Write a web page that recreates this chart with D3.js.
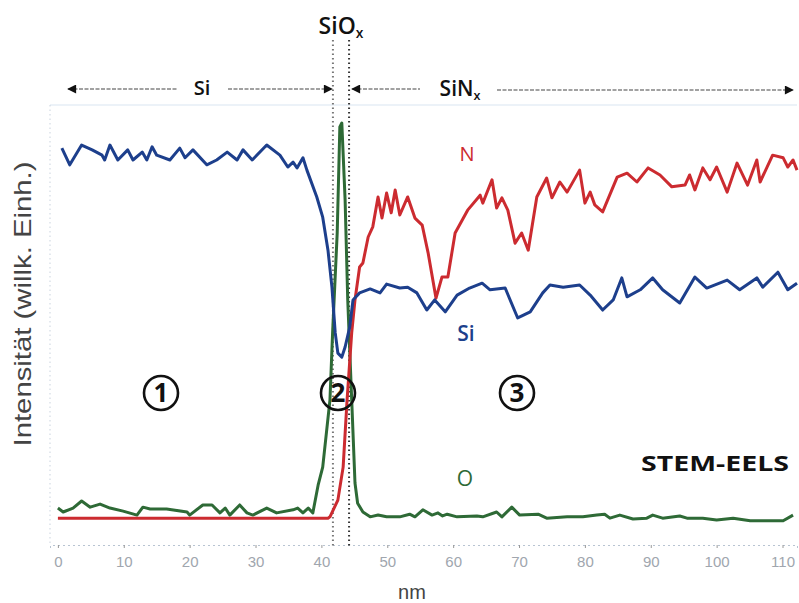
<!DOCTYPE html>
<html>
<head>
<meta charset="utf-8">
<script src="https://cdn.jsdelivr.net/npm/d3@7/dist/d3.min.js"></script>
<style>
  html, body { margin: 0; padding: 0; background: #fff; }
  svg { display: block; }
</style>
</head>
<body>
<svg id="chart" width="799" height="603"></svg>
<script>
// ---------- DATA ----------
const xTicks = [0, 10, 20, 30, 40, 50, 60, 70, 80, 90, 100, 110];

// Si signal (blue): [nm, intensity]
const siData = [
  [0.6,90.2],[1.8,86.4],[3.6,90.9],[5.2,89.8],[6.7,88.6],[7.1,87.5],[7.9,90.9],[9.1,87.5],
  [10.6,89.8],[11.4,87.5],[12.8,89.3],[13.5,87.5],[14.3,90.5],[15.0,88.6],[17.0,87.5],
  [18.5,90.2],[19.3,88.0],[20.5,89.8],[22.6,86.4],[24.1,87.5],[25.7,89.3],[27.2,87.5],
  [28.1,89.8],[29.5,87.5],[31.7,90.9],[33.7,88.6],[34.9,85.9],[35.7,87.0],[36.3,85.7],
  [37.2,88.0],[37.8,85.2],[39.3,79.1],[40.2,74.5],[41.0,67.0],[41.6,58.6],[42.1,48.2],
  [42.5,43.6],[43.1,42.7],[43.6,45.0],[44.3,49.5],[44.8,55.7],[45.8,57.3],[47.4,58.2],
  [48.9,57.3],[49.9,59.3],[51.9,58.4],[53.1,58.6],[54.5,57.3],[56.0,53.4],[57.2,55.7],
  [58.8,53.0],[60.6,56.8],[62.5,58.4],[64.4,59.5],[65.6,58.0],[67.9,58.4],[69.8,51.6],
  [71.7,53.0],[73.6,57.3],[74.7,59.1],[76.7,58.6],[79.2,59.1],[80.8,56.8],[82.7,53.4],
  [84.3,55.7],[85.6,60.7],[86.4,56.4],[88.4,58.0],[90.3,60.7],[91.8,58.0],[94.4,55.0],
  [96.7,60.9],[98.5,58.4],[101.6,60.2],[103.5,58.0],[106.1,60.7],[107.0,58.6],[109.3,62.0],
  [110.8,58.0],[112.2,59.5]
];

// N signal (red)
const nData = [
  [0.0,6.1],[20.0,6.1],[41.0,6.1],[41.3,6.4],[42.5,10.2],[43.3,17.7],[43.9,33.0],[44.6,48.2],
  [45.1,55.7],[45.8,63.2],[46.3,64.1],[47.1,70.0],[47.8,72.3],[48.6,79.1],[49.2,74.3],
  [49.9,80.0],[50.6,75.5],[51.2,80.7],[51.9,75.0],[53.1,79.1],[54.2,74.3],[55.3,72.7],
  [56.2,66.4],[57.4,56.1],[58.3,60.9],[59.2,60.9],[60.3,70.9],[62.2,76.1],[64.1,79.5],
  [64.5,77.7],[65.9,83.0],[66.6,76.6],[67.4,78.9],[68.3,76.1],[69.4,68.6],[70.4,70.9],
  [71.4,67.0],[72.7,79.1],[74.2,83.4],[75.0,78.9],[76.2,82.5],[77.3,80.2],[79.2,85.2],
  [80.0,77.7],[80.8,80.2],[81.5,77.3],[82.7,75.7],[84.9,83.6],[86.4,84.5],[87.9,82.5],
  [89.6,85.7],[91.4,84.1],[93.2,81.4],[95.2,81.8],[95.9,84.1],[96.7,80.7],[97.9,85.7],
  [99.0,83.0],[100.0,85.9],[101.6,80.2],[103.1,86.8],[104.7,81.8],[106.1,87.5],[106.6,82.5],
  [108.5,88.6],[110.1,88.0],[110.8,85.9],[111.6,87.5],[112.2,85.2]
];

// O signal (green)
const oData = [
  [0.0,8.4],[0.8,7.5],[2.3,8.4],[3.6,10.0],[4.9,8.6],[6.4,9.3],[7.9,8.4],[9.9,7.7],[12.0,6.8],
  [12.9,8.6],[14.0,8.2],[16.5,8.2],[19.6,7.5],[20.0,6.8],[22.0,9.1],[23.4,9.1],[24.6,7.3],
  [25.4,8.4],[26.1,6.8],[27.6,9.1],[28.7,7.3],[29.6,6.8],[31.7,8.4],[33.2,7.3],[35.7,8.0],
  [36.4,8.4],[37.2,7.3],[38.0,8.4],[38.7,7.3],[39.5,13.6],[40.2,17.7],[41.3,33.0],[41.7,48.2],
  [42.4,70.9],[42.8,95.0],[43.1,95.9],[43.6,78.4],[44.0,55.7],[44.6,33.0],[45.1,14.1],
  [45.5,9.5],[46.3,7.5],[47.4,6.4],[48.6,6.8],[49.9,6.4],[51.9,6.4],[53.4,7.0],[54.2,6.4],
  [55.4,8.0],[56.8,6.8],[57.7,7.3],[58.4,6.6],[59.1,7.0],[60.6,6.4],[63.6,6.6],[64.5,6.4],
  [66.6,7.5],[67.4,6.4],[68.9,8.6],[70.1,6.8],[72.9,7.0],[74.2,6.1],[77.3,6.4],[79.7,6.4],
  [81.8,6.8],[83.0,7.0],[83.8,6.1],[85.3,6.8],[87.3,5.9],[89.4,6.1],[90.3,6.8],[91.8,6.1],
  [94.4,6.6],[95.5,6.1],[97.9,6.1],[100.0,5.7],[102.5,6.1],[105.1,5.5],[107.6,5.5],
  [110.1,5.5],[111.6,6.8]
];

// SiOx interface boundaries (nm)
const boundaries = [41.75, 44.2];

// ---------- LAYOUT ----------
const svg = d3.select("#chart");
const x = d3.scaleLinear().domain([-1.2, 112.2]).range([50, 797]);
const y = d3.scaleLinear().domain([0, 100]).range([545, 105]);

const fontSans = "'Open Sans', 'Noto Sans', sans-serif";

// faint frame lines
svg.append("line").attr("x1", 50).attr("x2", 797).attr("y1", 105).attr("y2", 105)
  .attr("stroke", "#e6eef6").attr("stroke-width", 1.5);
svg.append("line").attr("x1", 50).attr("x2", 50).attr("y1", 105).attr("y2", 545)
  .attr("stroke", "#c9d3de").attr("stroke-width", 1).attr("stroke-dasharray", "1.5,3");

// x axis
const xAxis = d3.axisBottom(x).tickValues(xTicks).tickSize(3).tickPadding(8)
  .tickFormat(d3.format("d"));
const gx = svg.append("g").attr("transform", "translate(0,545)").call(xAxis);
gx.select(".domain").attr("stroke", "#b8c4d2").attr("stroke-dasharray", "2,3").attr("stroke-width", 1);
gx.selectAll(".tick line").attr("stroke", "#999");
gx.selectAll(".tick text").attr("fill", "#a0a6ae").attr("font-size", 15)
  .attr("font-family", "'Liberation Sans', Arial, sans-serif");

// x axis title
svg.append("text").attr("x", 412).attr("y", 599).attr("text-anchor", "middle")
  .attr("font-family", "'Liberation Sans', Arial, sans-serif").attr("font-size", 20)
  .attr("fill", "#444").text("nm");

// y axis title
svg.append("text").attr("transform", "translate(31,304) rotate(-90)")
  .attr("text-anchor", "middle").attr("font-family", "'Liberation Sans', Arial, sans-serif")
  .attr("font-size", 24).attr("fill", "#444")
  .attr("textLength", 285).attr("lengthAdjust", "spacingAndGlyphs")
  .text("Intensität (willk. Einh.)");

// boundary dotted lines
svg.selectAll("line.bound").data(boundaries).enter().append("line")
  .attr("class", "bound")
  .attr("x1", d => x(d)).attr("x2", d => x(d))
  .attr("y1", 40).attr("y2", 547)
  .attr("stroke", (d, i) => i === 0 ? "#777" : "#333")
  .attr("stroke-width", 2)
  .attr("stroke-dasharray", "1.5,3");

// lines
const line = d3.line().x(d => x(d[0])).y(d => y(d[1])).curve(d3.curveLinear);
const series = [
  { data: oData, color: "#2e6a36" },
  { data: nData, color: "#cc2b30" },
  { data: siData, color: "#1d3f8c" }
];
svg.selectAll("path.series").data(series).enter().append("path")
  .attr("class", "series")
  .attr("d", d => line(d.data))
  .attr("fill", "none")
  .attr("stroke", d => d.color)
  .attr("stroke-width", 3)
  .attr("stroke-linejoin", "round");

// arrows (region markers)
const defs = svg.append("defs");
defs.append("marker").attr("id", "ah").attr("viewBox", "0 0 10 10")
  .attr("refX", 9).attr("refY", 5).attr("markerWidth", 15).attr("markerHeight", 9)
  .attr("markerUnits", "userSpaceOnUse").attr("orient", "auto-start-reverse")
  .append("path").attr("d", "M0,0 L10,5 L0,10 Z").attr("fill", "#111");

function arrow(x1, x2, yy, start, end) {
  const l = svg.append("line").attr("x1", x1).attr("x2", x2).attr("y1", yy).attr("y2", yy)
    .attr("stroke", "#444").attr("stroke-width", 1.2).attr("stroke-dasharray", "4,1.5");
  if (start) l.attr("marker-start", "url(#ah)");
  if (end) l.attr("marker-end", "url(#ah)");
}
arrow(68, 178, 89, true, false);
arrow(228, 332, 89, false, true);
arrow(352, 420, 89, true, false);
arrow(497, 793, 90, false, true);

// region labels
function subLabel(cx, cy, main, sub, size) {
  const t = svg.append("text").attr("x", cx).attr("y", cy).attr("text-anchor", "middle")
    .attr("font-family", fontSans).attr("font-weight", 600).attr("font-size", size)
    .attr("fill", "#111");
  t.append("tspan").text(main);
  if (sub) t.append("tspan").attr("font-size", size * 0.6).attr("dy", 4).text(sub);
}
subLabel(341, 34, "SiO", "x", 23);
subLabel(202, 95, "Si", null, 20);
subLabel(460, 96, "SiN", "x", 21);

// element labels
svg.append("text").attr("x", 467).attr("y", 161).attr("text-anchor", "middle")
  .attr("font-family", fontSans).attr("font-size", 20).attr("fill", "#cc2b30").text("N");
svg.append("text").attr("x", 466).attr("y", 341).attr("text-anchor", "middle")
  .attr("font-family", fontSans).attr("font-weight", 600).attr("font-size", 21)
  .attr("fill", "#1d3f8c").text("Si");
svg.append("text").attr("x", 465).attr("y", 486).attr("text-anchor", "middle")
  .attr("font-family", fontSans).attr("font-size", 21).attr("fill", "#2e6a36").text("O");
svg.append("text").attr("x", 715).attr("y", 471).attr("text-anchor", "middle")
  .attr("font-family", fontSans).attr("font-weight", 700).attr("font-size", 22)
  .attr("textLength", 148).attr("lengthAdjust", "spacingAndGlyphs")
  .attr("fill", "#111").text("STEM-EELS");

// circled region numbers
const circles = [{ n: "1", cx: 161 }, { n: "2", cx: 338 }, { n: "3", cx: 517 }];
const cg = svg.selectAll("g.circ").data(circles).enter().append("g")
  .attr("transform", d => `translate(${d.cx},393)`);
cg.append("circle").attr("r", 17).attr("fill", "none").attr("stroke", "#111").attr("stroke-width", 2.6);
cg.append("text").attr("text-anchor", "middle").attr("dy", 9)
  .attr("font-family", fontSans).attr("font-weight", 700).attr("font-size", 26)
  .attr("fill", "#111").text(d => d.n);
</script>
</body>
</html>
